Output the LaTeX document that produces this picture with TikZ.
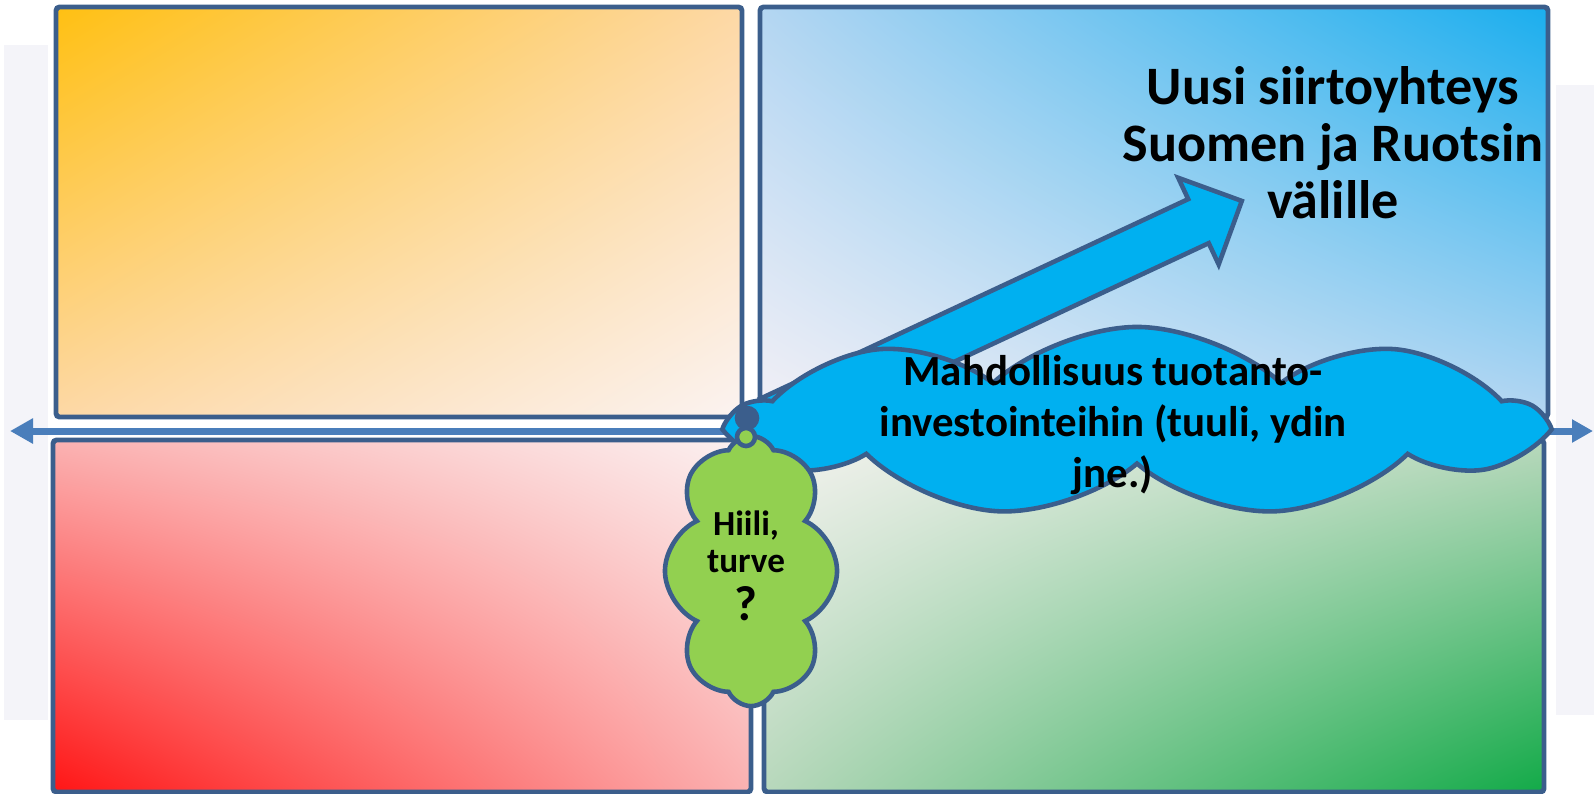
\documentclass[tikz,border=0pt]{standalone}
\usepackage{fontspec}
\setmainfont{Carlito}
\usetikzlibrary{arrows.meta,shapes.symbols,shapes.arrows,shadings}

\definecolor{edge}{HTML}{3B5E8C}
\definecolor{axisblue}{HTML}{4A7EBB}
\definecolor{cloudblue}{HTML}{00B0F0}
\definecolor{leafgreen}{HTML}{92D050}
\definecolor{bgfaint}{HTML}{F4F4F9}
\definecolor{sunA}{HTML}{FFC012}
\definecolor{sunM}{HTML}{FDD8A6}
\definecolor{sunB}{HTML}{FBF3F1}
\definecolor{skyA}{HTML}{1AAEEE}
\definecolor{skyM}{HTML}{B4D6F2}
\definecolor{skyB}{HTML}{F3F0F6}
\definecolor{fireA}{HTML}{FF1515}
\definecolor{fireM}{HTML}{FBB2B2}
\definecolor{fireB}{HTML}{FBF1F1}
\definecolor{grassA}{HTML}{12AA48}
\definecolor{grassM}{HTML}{B8D8BC}
\definecolor{grassB}{HTML}{F5F3F0}

\begin{document}
\begin{tikzpicture}[x=0.01cm,y=-0.01cm]
\tikzstyle{every node}+=[inner sep=0pt]
\tikzstyle{quad}=[draw=edge,line width=1.4pt,rounded corners=1pt]
\tikzstyle{puff}=[cloud,draw=edge,line width=1.3pt,cloud ignores aspect]
\useasboundingbox (0,0) rectangle (1594,793);
\fill [white] (0,0) rectangle (1594,793);
% faint figures in the background
\fill [bgfaint] (4,45) rectangle (48,720);
\fill [bgfaint] (1556,85) rectangle (1594,715);
% four quadrants
\shade [upper left=sunA,upper right=sunM,lower left=sunM,lower right=sunB] (56,7) rectangle (742,417);
\draw [quad] (56,7) rectangle (742,417);
\shade [upper left=skyM,upper right=skyA,lower left=skyB,lower right=skyM] (760,7) rectangle (1548,417);
\draw [quad] (760,7) rectangle (1548,417);
\shade [upper left=fireM,upper right=fireB,lower left=fireA,lower right=fireM] (53,440) rectangle (751,792);
\draw [quad] (53,440) rectangle (751,792);
\shade [upper left=grassB,upper right=grassM,lower left=grassM,lower right=grassA] (764,440) rectangle (1544,792);
\draw [quad] (764,440) rectangle (1544,792);
% axis
\coordinate (west) at (10,431);
\coordinate (east) at (1593,431);
\draw [axisblue,line width=0.07cm,{Triangle[length=0.23cm,width=0.24cm]}-{Triangle[length=0.21cm,width=0.22cm]}] (west) -- (east);
% link arrow
\node [single arrow,draw=edge,fill=cloudblue,line width=1.3pt,inner xsep=0pt,inner ysep=0.22cm,minimum height=5.2cm,single arrow head extend=0.235cm,rotate=25] (link) at (995,316) {};
\node [align=center,font=\bfseries\fontsize{15.4}{16.2}\selectfont] (goal) at (1333,143) {Uusi siirtoyhteys\\Suomen ja Ruotsin\\välille};
% clouds
\node [puff,fill=cloudblue,minimum width=8.02cm,minimum height=1.9cm,cloud puffs=9,cloud puff arc=85] (bcloud) at (1137,422) {};
\node [align=center,font=\bfseries\fontsize{12.2}{14.5}\selectfont] (btext) at (1113,425) {Mahdollisuus tuotanto-\\investointeihin (tuuli, ydin\\jne.)};
\node [circle,draw=edge,fill=edge,line width=1.3pt,minimum size=0.2cm] (bdot) at (747,418) {};
\node [puff,fill=leafgreen,minimum width=1.72cm,minimum height=2.7cm,cloud puffs=8,cloud puff arc=130] (gcloud) at (751,571) {};
\node [circle,draw=edge,fill=leafgreen,line width=1.3pt,minimum size=0.18cm] (gdot) at (746,437) {};
\node [align=center,font=\bfseries\fontsize{10}{10.5}\selectfont] (gtext) at (746,566) {Hiili,\\turve\\[3pt]{\fontsize{14}{14}\selectfont ?}};
\end{tikzpicture}
\end{document}
